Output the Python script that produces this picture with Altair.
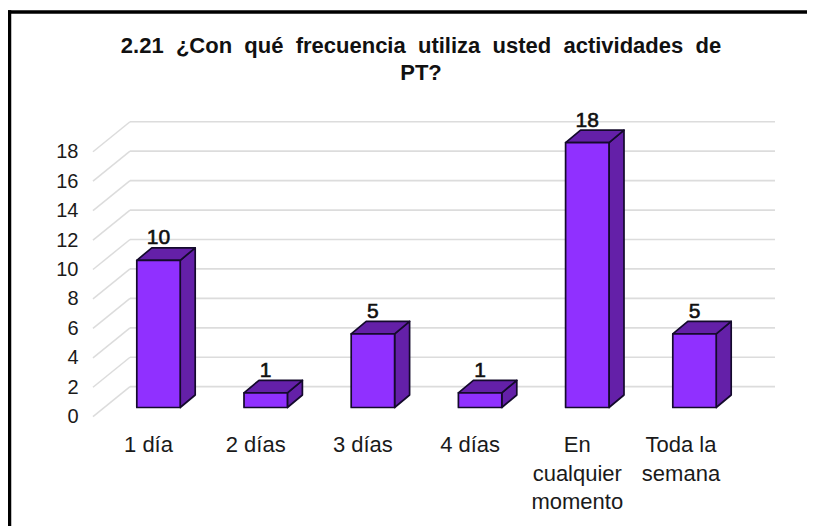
import json
import altair as alt
import pandas as pd

NB = "\u00a0"
TITLE = [f"2.21 {NB}¿Con {NB}qué {NB}frecuencia {NB}utiliza {NB}usted {NB}actividades {NB}de", "PT?"]
CATEGORIES = [["1 día"], ["2 días"], ["3 días"], ["4 días"], ["En", "cualquier", "momento"],
              ["Toda la", "semana"]]
VALUES = [10, 1, 5, 1, 18, 5]
Y_TICKS = [0, 2, 4, 6, 8, 10, 12, 14, 16, 18]

FONT = "Liberation Sans"
FRONT, DARK, EDGE, GRID, INK = "#9030FF", "#6420A8", "#140A2C", "#DCDCDC", "#1A1A1A"

W, H = 682, 295
X_DOM = [-0.611, 5.751]
Y_DOM = [0, 20.04]
px_x = (X_DOM[1] - X_DOM[0]) / W      # x units per pixel
px_y = (Y_DOM[1] - Y_DOM[0]) / H      # y units per pixel
half = 21.7 * px_x                    # half bar width
base = 9.2 * px_y                     # bars stand on the floor, in front of the wall
bx, by = 15 * px_x, 12.5 * px_y       # bar depth
wx, wy = 37 * px_x, 30 * px_y         # floor depth

idx = list(range(len(VALUES)))
bars = pd.DataFrame({"i": idx, "v": VALUES})
bars["x0"] = bars.i - half
bars["x1"] = bars.i + half
bars["y0"] = base
bars["y1"] = base + bars.v

side_rows, top_rows = [], []
for i, v in zip(idx, VALUES):
    side_rows += [
        {"k": i, "x": i + half, "y": base + v, "y2": base},
        {"k": i, "x": i + half + bx, "y": base + v + by, "y2": base + by},
    ]
    top_rows += [
        {"k": i, "y": base + v, "x": i - half, "x2": i + half},
        {"k": i, "y": base + v + by, "x": i - half + bx, "x2": i + half + bx},
    ]
side = pd.DataFrame(side_rows)
top = pd.DataFrame(top_rows)

grid = pd.DataFrame({"v": Y_TICKS})
grid["vb"] = grid.v + wy
grid["xl"] = X_DOM[0]
grid["xb"] = X_DOM[0] + wx
grid["xr"] = X_DOM[1]

x_scale = alt.Scale(domain=X_DOM, nice=False, zero=False)
y_scale = alt.Scale(domain=Y_DOM, nice=False, zero=False)
stroke = dict(stroke=EDGE, strokeWidth=1.7, strokeJoin="round")

label_expr = "(" + json.dumps(CATEGORIES, ensure_ascii=False) + ")[datum.value]"
label_offset = {"condition": {"test": "datum.value == 5", "value": -14}, "value": -10.5}

x_axis = alt.Axis(
    values=idx, labelExpr=label_expr, title=None, ticks=False, domain=False, grid=False,
    labelFont=FONT, labelFontSize=22, labelColor=INK, labelPadding=18, labelOffset=label_offset,
    labelAngle=0, labelAlign="center", labelBaseline="top", labelLineHeight=28.5,
    labelOverlap=False, labelFlush=False, labelBound=False)
y_axis = alt.Axis(
    values=Y_TICKS, title=None, ticks=False, domain=False, grid=False, labelOverlap=False,
    labelFont=FONT, labelFontSize=20, labelColor=INK, labelPadding=15)


def qx(field):
    return alt.X(field, scale=x_scale, axis=x_axis)


def qy(field):
    return alt.Y(field, scale=y_scale, axis=y_axis)


wall = alt.Chart(grid).mark_rule(color=GRID, strokeWidth=1.7).encode(
    x=qx("xb:Q"), x2="xr:Q", y=qy("vb:Q"), y2="vb:Q")
floor = alt.Chart(grid).mark_rule(color=GRID, strokeWidth=1.5).encode(
    x=qx("xl:Q"), x2="xb:Q", y=qy("v:Q"), y2="vb:Q")

front_face = alt.Chart(bars).mark_rect(color=FRONT, **stroke).encode(
    x=qx("x0:Q"), x2="x1:Q", y=qy("y1:Q"), y2="y0:Q")
side_face = alt.Chart(side).mark_area(color=DARK, interpolate="linear", **stroke).encode(
    x=qx("x:Q"), y=qy("y:Q"), y2="y2:Q", detail="k:N")
top_face = alt.Chart(top).mark_area(color=DARK, interpolate="linear", orient="horizontal", **stroke).encode(
    y=qy("y:Q"), x=qx("x:Q"), x2="x2:Q", detail="k:N")

labels = alt.Chart(bars).mark_text(
    font=FONT, fontSize=21, color="#101010", stroke="#101010", strokeWidth=0.6,
    baseline="alphabetic", align="center", dy=-16, dx=0,
).encode(x=qx("i:Q"), y=qy("y1:Q"), text="v:Q")

title_mark = alt.Chart(grid.head(1)).mark_text(
    text=TITLE, lineHeight=27,
    font=FONT, fontSize=22, fontWeight="bold", color="#111111",
    baseline="alphabetic", align="center",
).encode(x=alt.value(328), y=alt.value(-68.7))

frame_left = alt.Chart(grid.head(1)).mark_rule(color="#000000", strokeWidth=3.5).encode(
    x=alt.value(-83.5), y=alt.value(-111.5), y2=alt.value(420))
frame_top = alt.Chart(grid.head(1)).mark_rule(color="#000000", strokeWidth=3.5).encode(
    x=alt.value(-85), x2=alt.value(740), y=alt.value(-109.7))

chart = alt.layer(
    wall, floor, side_face, top_face, front_face, labels, frame_left, frame_top, title_mark
).properties(
    width=W, height=H,
    autosize=alt.AutoSizeParams(type="none"),
    padding={"left": 85, "right": 32, "top": 113.7, "bottom": 109.3},
    background="#FFFFFF",
).configure_view(stroke=None)

chart.save("out.html", embed_options={"renderer": "svg", "actions": False})
